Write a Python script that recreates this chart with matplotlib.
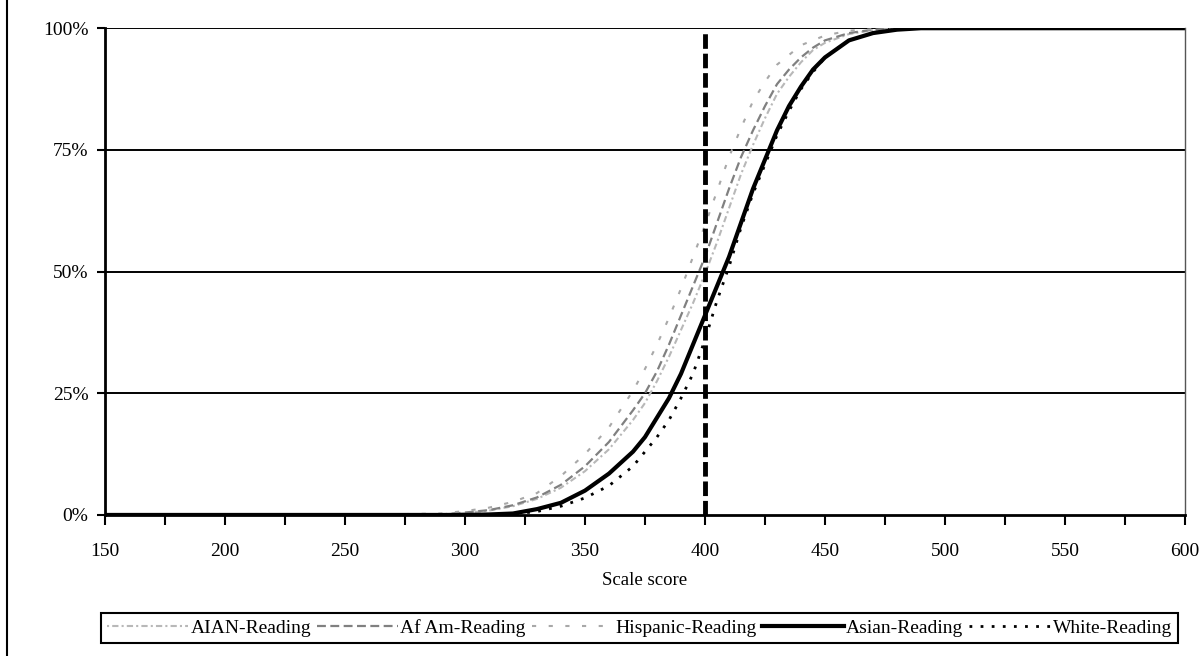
import matplotlib
matplotlib.use("Agg")
import matplotlib.pyplot as plt
from matplotlib.ticker import MultipleLocator, PercentFormatter
from matplotlib.lines import Line2D

plt.rcParams['font.family'] = ['Liberation Serif', 'DejaVu Serif']

# scale scores and cumulative percentages
score = [150, 250, 290, 300, 310, 320, 330, 340, 350, 360, 370, 375, 380, 385,
         390, 395, 400, 405, 410, 415, 420, 425, 430, 435, 440, 445, 450, 460,
         470, 480, 490, 500, 600]

aian = [0, 0, 0.1, 0.4, 0.9, 1.8, 3.3, 5.6, 9.0, 13.5, 19.5, 23.0, 27.5, 32.5,
        38.0, 43.5, 49.5, 56.0, 63.0, 70.0, 76.0, 81.5, 86.5, 90.0, 93.0, 95.5,
        97.0, 98.8, 99.6, 99.9, 100, 100, 100]
afam = [0, 0, 0.1, 0.5, 1.0, 2.0, 3.6, 6.2, 10.0, 15.0, 21.5, 25.0, 29.5, 35.0,
        41.0, 47.0, 53.0, 60.0, 67.0, 73.5, 79.0, 84.0, 88.5, 91.5, 94.0, 96.0,
        97.5, 99.0, 99.7, 100, 100, 100, 100]
hispanic = [0, 0, 0.3, 0.8, 1.5, 2.7, 4.5, 8.0, 12.5, 18.0, 25.5, 30.0, 35.0,
            40.5, 46.5, 53.0, 59.5, 66.5, 73.5, 79.5, 85.0, 89.0, 92.5, 94.5,
            96.5, 97.5, 98.5, 99.5, 99.8, 100, 100, 100, 100]
asian = [0, 0, 0, 0, 0.1, 0.3, 1.2, 2.5, 5.0, 8.5, 13.0, 16.0, 20.0, 24.0,
         29.0, 35.0, 41.0, 47.0, 53.0, 60.0, 67.0, 73.0, 79.0, 84.0, 88.0, 91.5,
         94.0, 97.5, 99.0, 99.7, 100, 100, 100]
white = [0, 0, 0, 0, 0.05, 0.2, 0.7, 1.8, 3.5, 6.0, 10.0, 13.0, 16.0, 19.5,
         24.0, 29.0, 36.0, 44.0, 51.0, 59.0, 66.0, 72.0, 78.0, 83.0, 87.5, 91.0,
         94.0, 97.5, 99.0, 99.8, 100, 100, 100]

cut_score = 400

fig = plt.figure(figsize=(12.04, 6.56), dpi=100)
ax = fig.add_axes([0.0872, 0.215, 0.897, 0.742])

ax.plot(score, aian, color='#b8b8b8', lw=1.5, dashes=(1, 1.5, 3, 1.5),
        label='AIAN-Reading')
ax.plot(score, afam, color='#808080', lw=1.6, dashes=(4, 2),
        label='Af Am-Reading')
ax.plot(score, hispanic, color='#a8a8a8', lw=1.5, dashes=(2, 6),
        label='Hispanic-Reading')
ax.plot(score, asian, color='black', lw=3, label='Asian-Reading')
ax.plot(score, white, color='black', lw=2, dashes=(1, 3),
        label='White-Reading')

ax.axvline(cut_score, ymax=0.99, color='black', lw=3.5, dashes=(3, 1))

for g in [25, 50, 75, 100]:
    ax.axhline(g, color='black', lw=1.4, zorder=0.5)

ax.set_xlim(150, 600)
ax.set_ylim(0, 100)
ax.xaxis.set_major_locator(MultipleLocator(50))
ax.xaxis.set_minor_locator(MultipleLocator(25))
ax.yaxis.set_major_locator(MultipleLocator(25))
ax.yaxis.set_major_formatter(PercentFormatter(decimals=0))
ax.tick_params(axis='both', which='both', direction='out', width=1.5,
               labelsize=14)
ax.tick_params(axis='x', which='major', length=7, pad=13)
ax.tick_params(axis='x', which='minor', length=7)
ax.tick_params(axis='y', length=6, pad=6)

ax.spines['top'].set_visible(False)
ax.spines['left'].set_linewidth(2)
ax.spines['bottom'].set_linewidth(2)
ax.spines['right'].set_linewidth(1)
ax.spines['right'].set_color('#555555')

ax.set_xlabel('Scale score', fontsize=13.5, labelpad=9)

leg = fig.legend(loc='center', bbox_to_anchor=(0.531, 0.043), ncol=5,
                 fontsize=14, handlelength=4.2, handletextpad=0.1,
                 columnspacing=0.3, borderpad=0.3, fancybox=False,
                 frameon=True, edgecolor='black', framealpha=1)
leg.get_frame().set_linewidth(1.5)

# page border line on the left
fig.add_artist(Line2D([0.006, 0.006], [0, 1], color='black', lw=1.5))

fig.savefig('out.png', dpi=100)
